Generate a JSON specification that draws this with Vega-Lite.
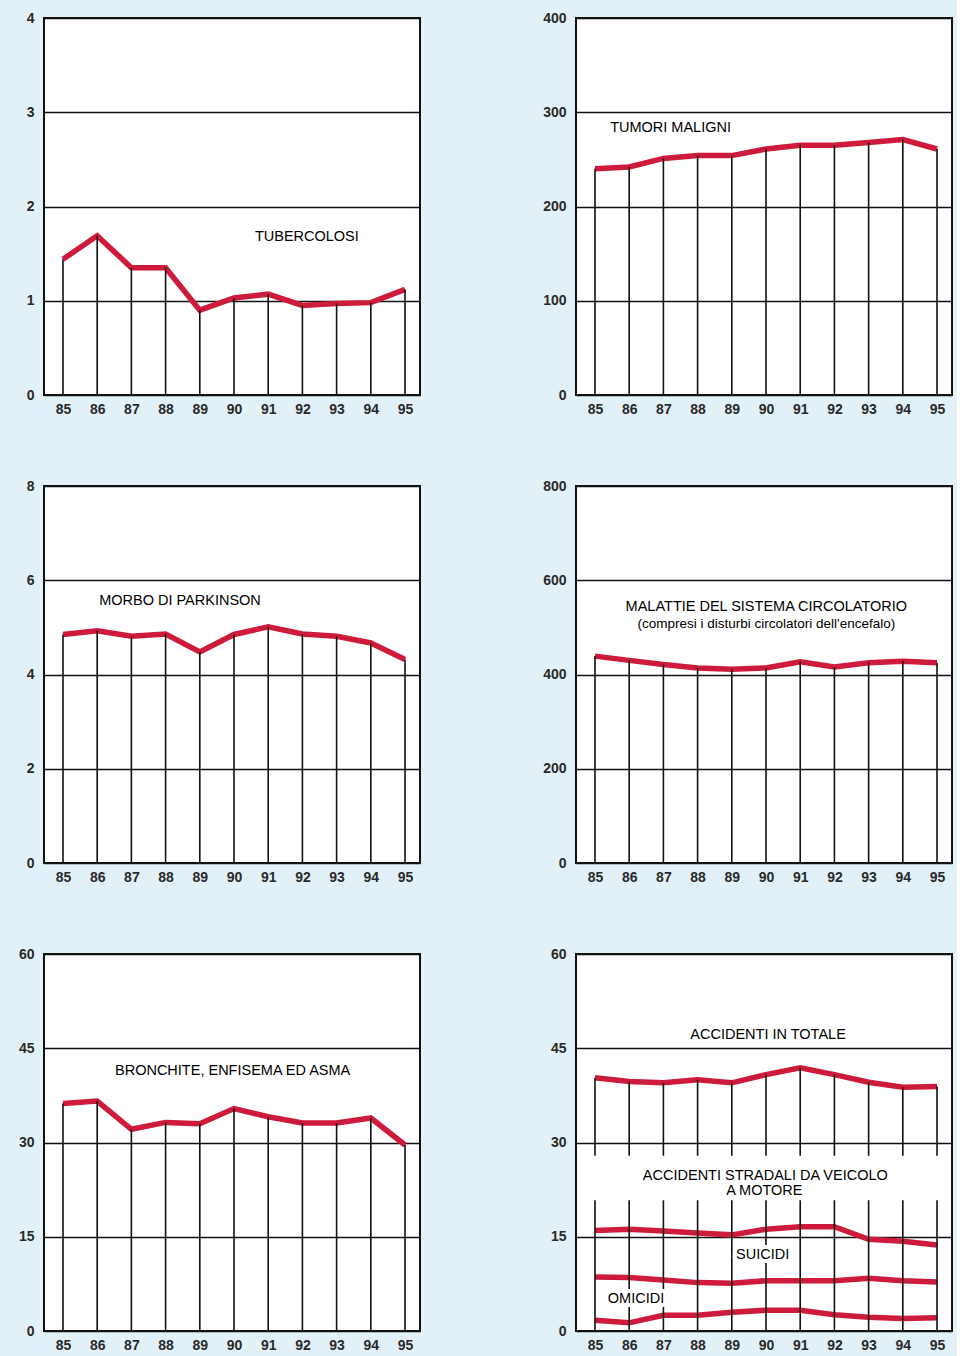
{
  "$schema": "https://vega.github.io/schema/vega-lite/v6.json",
  "padding": {"left": 17, "top": 10, "right": 4, "bottom": 4},
  "background": "#e2f0f7",
  "columns": 2,
  "bounds": "flush",
  "spacing": {"row": 91, "column": 156},
  "datasets": {
    "tb": [
      {"year": 85, "value": 1.44}, {"year": 86, "value": 1.69}, {"year": 87, "value": 1.35}, {"year": 88, "value": 1.35},
      {"year": 89, "value": 0.90}, {"year": 90, "value": 1.03}, {"year": 91, "value": 1.07}, {"year": 92, "value": 0.95},
      {"year": 93, "value": 0.97}, {"year": 94, "value": 0.98}, {"year": 95, "value": 1.12}
    ],
    "tm": [
      {"year": 85, "value": 240}, {"year": 86, "value": 242}, {"year": 87, "value": 251}, {"year": 88, "value": 254},
      {"year": 89, "value": 254}, {"year": 90, "value": 261}, {"year": 91, "value": 265}, {"year": 92, "value": 265},
      {"year": 93, "value": 268}, {"year": 94, "value": 271}, {"year": 95, "value": 261}
    ],
    "pk": [
      {"year": 85, "value": 4.85}, {"year": 86, "value": 4.93}, {"year": 87, "value": 4.81}, {"year": 88, "value": 4.86},
      {"year": 89, "value": 4.48}, {"year": 90, "value": 4.85}, {"year": 91, "value": 5.01}, {"year": 92, "value": 4.86},
      {"year": 93, "value": 4.81}, {"year": 94, "value": 4.67}, {"year": 95, "value": 4.32}
    ],
    "circ": [
      {"year": 85, "value": 439}, {"year": 86, "value": 430}, {"year": 87, "value": 421}, {"year": 88, "value": 414},
      {"year": 89, "value": 411}, {"year": 90, "value": 414}, {"year": 91, "value": 427}, {"year": 92, "value": 416},
      {"year": 93, "value": 425}, {"year": 94, "value": 428}, {"year": 95, "value": 425}
    ],
    "br": [
      {"year": 85, "value": 36.2}, {"year": 86, "value": 36.6}, {"year": 87, "value": 32.1}, {"year": 88, "value": 33.2},
      {"year": 89, "value": 33.0}, {"year": 90, "value": 35.4}, {"year": 91, "value": 34.1}, {"year": 92, "value": 33.1},
      {"year": 93, "value": 33.1}, {"year": 94, "value": 33.9}, {"year": 95, "value": 29.6}
    ],
    "acc": [
      {"series": "totale", "year": 85, "value": 40.3}, {"series": "totale", "year": 86, "value": 39.7},
      {"series": "totale", "year": 87, "value": 39.5}, {"series": "totale", "year": 88, "value": 40.0},
      {"series": "totale", "year": 89, "value": 39.5}, {"series": "totale", "year": 90, "value": 40.8},
      {"series": "totale", "year": 91, "value": 41.9}, {"series": "totale", "year": 92, "value": 40.8},
      {"series": "totale", "year": 93, "value": 39.6}, {"series": "totale", "year": 94, "value": 38.8},
      {"series": "totale", "year": 95, "value": 38.9},
      {"series": "stradali", "year": 85, "value": 16.0}, {"series": "stradali", "year": 86, "value": 16.2},
      {"series": "stradali", "year": 87, "value": 15.9}, {"series": "stradali", "year": 88, "value": 15.6},
      {"series": "stradali", "year": 89, "value": 15.3}, {"series": "stradali", "year": 90, "value": 16.2},
      {"series": "stradali", "year": 91, "value": 16.6}, {"series": "stradali", "year": 92, "value": 16.6},
      {"series": "stradali", "year": 93, "value": 14.6}, {"series": "stradali", "year": 94, "value": 14.3},
      {"series": "stradali", "year": 95, "value": 13.7},
      {"series": "suicidi", "year": 85, "value": 8.6}, {"series": "suicidi", "year": 86, "value": 8.5},
      {"series": "suicidi", "year": 87, "value": 8.1}, {"series": "suicidi", "year": 88, "value": 7.7},
      {"series": "suicidi", "year": 89, "value": 7.6}, {"series": "suicidi", "year": 90, "value": 8.0},
      {"series": "suicidi", "year": 91, "value": 8.0}, {"series": "suicidi", "year": 92, "value": 8.0},
      {"series": "suicidi", "year": 93, "value": 8.4}, {"series": "suicidi", "year": 94, "value": 8.0},
      {"series": "suicidi", "year": 95, "value": 7.8},
      {"series": "omicidi", "year": 85, "value": 1.7}, {"series": "omicidi", "year": 86, "value": 1.3},
      {"series": "omicidi", "year": 87, "value": 2.5}, {"series": "omicidi", "year": 88, "value": 2.5},
      {"series": "omicidi", "year": 89, "value": 3.0}, {"series": "omicidi", "year": 90, "value": 3.3},
      {"series": "omicidi", "year": 91, "value": 3.3}, {"series": "omicidi", "year": 92, "value": 2.6},
      {"series": "omicidi", "year": 93, "value": 2.2}, {"series": "omicidi", "year": 94, "value": 2.0},
      {"series": "omicidi", "year": 95, "value": 2.1}
    ]
  },
  "concat": [
    {
      "width": 376, "height": 377,
      "data": {"name": "tb"},
      "layer": [
        {"mark": {"type": "line", "color": "#cf1b3b", "strokeWidth": 5.5},
         "encoding": {
           "x": {"field": "year", "type": "quantitative", "scale": {"domain": [84.445, 95.438], "nice": false, "zero": false}, "axis": {"values": [85,86,87,88,89,90,91,92,93,94,95], "tickCount": 30, "format": "d", "title": null, "labelOverlap": false}},
           "y": {"field": "value", "type": "quantitative", "scale": {"domain": [0, 4], "nice": false}, "axis": {"values": [0,1,2,3,4], "tickCount": 10, "format": "d", "title": null}}}},
        {"mark": {"type": "rule", "color": "#111", "strokeWidth": 1.6},
         "encoding": {"x": {"field": "year", "type": "quantitative"}, "y": {"field": "value", "type": "quantitative"}, "y2": {"datum": 0}}},
        {"data": {"values": [{}]}, "mark": {"type": "text", "text": "TUBERCOLOSI"},
         "encoding": {"x": {"datum": 92.13}, "y": {"datum": 1.68}}}
      ]
    },
    {
      "width": 376, "height": 377,
      "data": {"name": "tm"},
      "layer": [
        {"mark": {"type": "line", "color": "#cf1b3b", "strokeWidth": 5.5},
         "encoding": {
           "x": {"field": "year", "type": "quantitative", "scale": {"domain": [84.445, 95.438], "nice": false, "zero": false}, "axis": {"values": [85,86,87,88,89,90,91,92,93,94,95], "tickCount": 30, "format": "d", "title": null, "labelOverlap": false}},
           "y": {"field": "value", "type": "quantitative", "scale": {"domain": [0, 400], "nice": false}, "axis": {"values": [0,100,200,300,400], "tickCount": 10, "format": "d", "title": null}}}},
        {"mark": {"type": "rule", "color": "#111", "strokeWidth": 1.6},
         "encoding": {"x": {"field": "year", "type": "quantitative"}, "y": {"field": "value", "type": "quantitative"}, "y2": {"datum": 0}}},
        {"data": {"values": [{}]}, "mark": {"type": "text", "text": "TUMORI MALIGNI"},
         "encoding": {"x": {"datum": 87.21}, "y": {"datum": 283.2}}}
      ]
    },
    {
      "width": 376, "height": 377,
      "data": {"name": "pk"},
      "layer": [
        {"mark": {"type": "line", "color": "#cf1b3b", "strokeWidth": 5.5},
         "encoding": {
           "x": {"field": "year", "type": "quantitative", "scale": {"domain": [84.445, 95.438], "nice": false, "zero": false}, "axis": {"values": [85,86,87,88,89,90,91,92,93,94,95], "tickCount": 30, "format": "d", "title": null, "labelOverlap": false}},
           "y": {"field": "value", "type": "quantitative", "scale": {"domain": [0, 8], "nice": false}, "axis": {"values": [0,2,4,6,8], "tickCount": 10, "format": "d", "title": null}}}},
        {"mark": {"type": "rule", "color": "#111", "strokeWidth": 1.6},
         "encoding": {"x": {"field": "year", "type": "quantitative"}, "y": {"field": "value", "type": "quantitative"}, "y2": {"datum": 0}}},
        {"data": {"values": [{}]}, "mark": {"type": "text", "text": "MORBO DI PARKINSON"},
         "encoding": {"x": {"datum": 88.42}, "y": {"datum": 5.57}}}
      ]
    },
    {
      "width": 376, "height": 377,
      "data": {"name": "circ"},
      "layer": [
        {"mark": {"type": "line", "color": "#cf1b3b", "strokeWidth": 5.5},
         "encoding": {
           "x": {"field": "year", "type": "quantitative", "scale": {"domain": [84.445, 95.438], "nice": false, "zero": false}, "axis": {"values": [85,86,87,88,89,90,91,92,93,94,95], "tickCount": 30, "format": "d", "title": null, "labelOverlap": false}},
           "y": {"field": "value", "type": "quantitative", "scale": {"domain": [0, 800], "nice": false}, "axis": {"values": [0,200,400,600,800], "tickCount": 10, "format": "d", "title": null}}}},
        {"mark": {"type": "rule", "color": "#111", "strokeWidth": 1.6},
         "encoding": {"x": {"field": "year", "type": "quantitative"}, "y": {"field": "value", "type": "quantitative"}, "y2": {"datum": 0}}},
        {"data": {"values": [{}]}, "mark": {"type": "text", "text": "MALATTIE DEL SISTEMA CIRCOLATORIO"},
         "encoding": {"x": {"datum": 90.01}, "y": {"datum": 544}}},
        {"data": {"values": [{}]}, "mark": {"type": "text", "text": "(compresi i disturbi circolatori dell'encefalo)", "fontSize": 13.5},
         "encoding": {"x": {"datum": 90.01}, "y": {"datum": 508}}}
      ]
    },
    {
      "width": 376, "height": 377,
      "data": {"name": "br"},
      "layer": [
        {"mark": {"type": "line", "color": "#cf1b3b", "strokeWidth": 5.5},
         "encoding": {
           "x": {"field": "year", "type": "quantitative", "scale": {"domain": [84.445, 95.438], "nice": false, "zero": false}, "axis": {"values": [85,86,87,88,89,90,91,92,93,94,95], "tickCount": 30, "format": "d", "title": null, "labelOverlap": false}},
           "y": {"field": "value", "type": "quantitative", "scale": {"domain": [0, 60], "nice": false}, "axis": {"values": [0,15,30,45,60], "tickCount": 10, "format": "d", "title": null}}}},
        {"mark": {"type": "rule", "color": "#111", "strokeWidth": 1.6},
         "encoding": {"x": {"field": "year", "type": "quantitative"}, "y": {"field": "value", "type": "quantitative"}, "y2": {"datum": 0}}},
        {"data": {"values": [{}]}, "mark": {"type": "text", "text": "BRONCHITE, ENFISEMA ED ASMA"},
         "encoding": {"x": {"datum": 89.96}, "y": {"datum": 41.3}}}
      ]
    },
    {
      "width": 376, "height": 377,
      "data": {"name": "acc"},
      "layer": [
        {"mark": {"type": "line", "color": "#cf1b3b", "strokeWidth": 5.5},
         "encoding": {
           "x": {"field": "year", "type": "quantitative", "scale": {"domain": [84.445, 95.438], "nice": false, "zero": false}, "axis": {"values": [85,86,87,88,89,90,91,92,93,94,95], "tickCount": 30, "format": "d", "title": null, "labelOverlap": false}},
           "y": {"field": "value", "type": "quantitative", "scale": {"domain": [0, 60], "nice": false}, "axis": {"values": [0,15,30,45,60], "tickCount": 10, "format": "d", "title": null}},
           "detail": {"field": "series", "type": "nominal"}}},
        {"transform": [{"filter": "datum.series === 'totale'"}],
         "mark": {"type": "rule", "color": "#111", "strokeWidth": 1.6},
         "encoding": {"x": {"field": "year", "type": "quantitative"}, "y": {"field": "value", "type": "quantitative"}, "y2": {"datum": 0}}},
        {"data": {"values": [{}]}, "mark": {"type": "rect", "color": "white"},
         "encoding": {"x": {"datum": 84.75}, "x2": {"datum": 95.25}, "y": {"datum": 27.9}, "y2": {"datum": 20.8}}},
        {"data": {"values": [{}]}, "mark": {"type": "text", "text": "ACCIDENTI IN TOTALE"},
         "encoding": {"x": {"datum": 90.06}, "y": {"datum": 47.1}}},
        {"data": {"values": [{}]}, "mark": {"type": "text", "text": "ACCIDENTI STRADALI DA VEICOLO"},
         "encoding": {"x": {"datum": 89.98}, "y": {"datum": 24.7}}},
        {"data": {"values": [{}]}, "mark": {"type": "text", "text": "A MOTORE"},
         "encoding": {"x": {"datum": 89.95}, "y": {"datum": 22.3}}},
        {"data": {"values": [{}]}, "mark": {"type": "text", "text": "SUICIDI", "stroke": "white", "strokeWidth": 8, "strokeJoin": "round"},
         "encoding": {"x": {"datum": 89.9}, "y": {"datum": 12.05}}},
        {"data": {"values": [{}]}, "mark": {"type": "text", "text": "SUICIDI"},
         "encoding": {"x": {"datum": 89.9}, "y": {"datum": 12.05}}},
        {"data": {"values": [{}]}, "mark": {"type": "text", "text": "OMICIDI", "stroke": "white", "strokeWidth": 8, "strokeJoin": "round"},
         "encoding": {"x": {"datum": 86.2}, "y": {"datum": 5.1}}},
        {"data": {"values": [{}]}, "mark": {"type": "text", "text": "OMICIDI"},
         "encoding": {"x": {"datum": 86.2}, "y": {"datum": 5.1}}}
      ]
    }
  ],
  "config": {
    "view": {"stroke": "#111", "strokeWidth": 2, "fill": "white"},
    "axis": {
      "labelFont": "Liberation Sans", "labelFontSize": 14, "labelFontWeight": "bold", "labelColor": "#2a2a2a",
      "ticks": false, "tickSize": 0, "domain": false, "labelFlush": false, "labelOverlap": false,
      "gridColor": "#111", "gridWidth": 1.5, "gridOpacity": 1
    },
    "axisX": {"grid": false, "labelPadding": 7},
    "axisY": {"grid": true, "labelPadding": 10},
    "text": {"font": "Liberation Sans", "fontSize": 14.5, "color": "#000"}
  }
}
